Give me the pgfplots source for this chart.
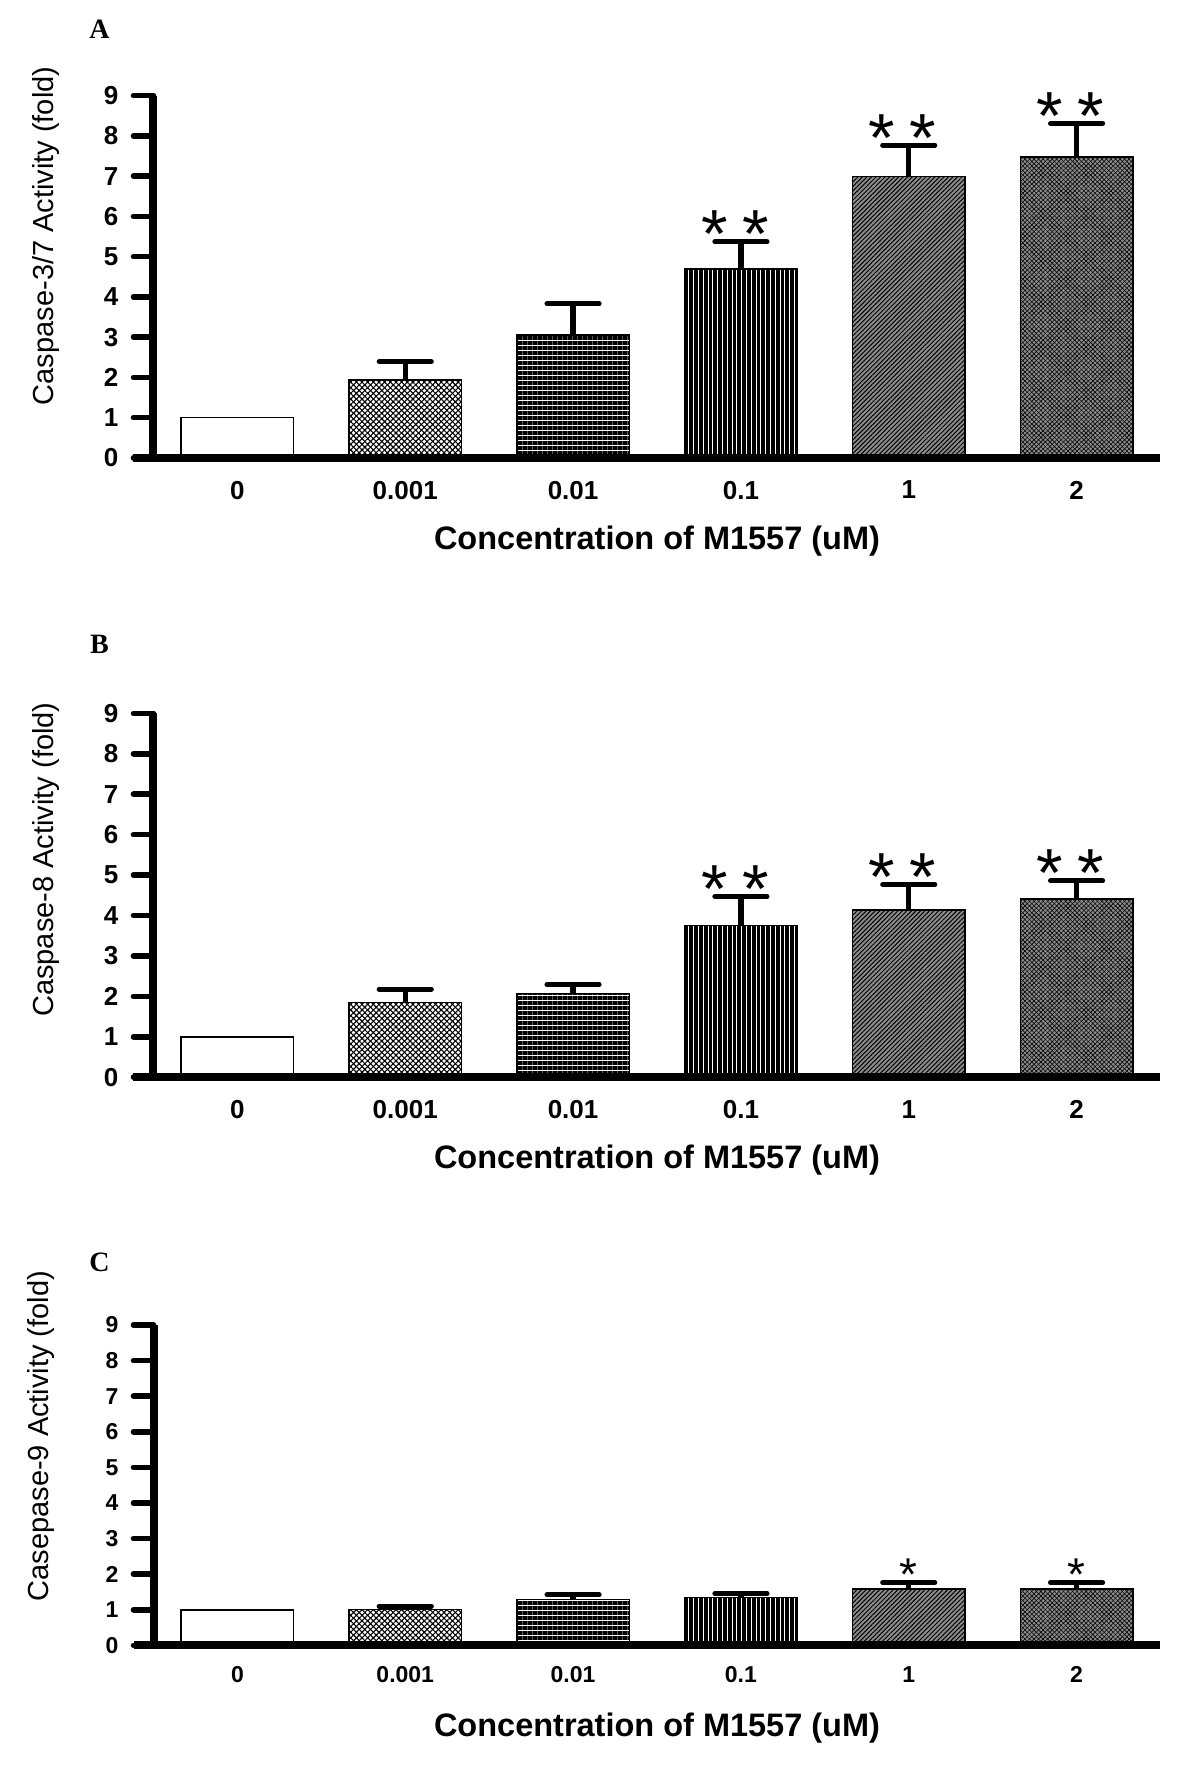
\documentclass[border=0pt]{standalone}
\usepackage{fontspec}
\setmainfont{Liberation Sans}
\newfontfamily\panelfont{Liberation Serif}
\usepackage{pgfplots}
\pgfplotsset{compat=1.18}
\usetikzlibrary{patterns.meta}

\pgfplotsset{
  barpanel/.style={
    scale only axis, width=503.5pt,
    xmin=-0.5, xmax=5.5, ymin=0, ymax=9,
    ybar, bar shift=0pt, bar width=0.67,
    axis x line*=bottom, axis y line*=left,
    axis line style={line width=4pt, black},
    x axis line style={shorten <=-10pt},
    axis on top, clip=false,
    tick align=outside, major tick length=10pt,
    xtick={0,...,5}, xticklabels={0,0.001,0.01,0.1,1,2},
    ytick={0,...,9},
    xtick style={draw=none},
    ytick style={line width=2.8pt, line cap=round, black},
    ticklabel style={font=\bfseries\fontsize{13}{15}\selectfont},
    yticklabel style={xshift=-4pt},
    xticklabel style={yshift=2pt},
    /pgf/number format/assume math mode=true,
    every axis x label/.style={at={(axis description cs:0.5,0)}, anchor=center, yshift=-41.5pt},
    every axis y label/.style={rotate=90, anchor=center},
    xlabel={Concentration of M1557 (uM)},
    xlabel style={font=\bfseries\fontsize{16.25}{19}\selectfont},
    ylabel style={font=\fontsize{14.5}{17}\selectfont},
    title style={anchor=center, yshift=-5.5pt, font=\panelfont\bfseries\fontsize{14}{16}\selectfont},
  },
  b0/.style={draw=black, line width=0.8pt, fill=white},
  b1/.style={draw=black, line width=0.8pt, fill=white,
    postaction={pattern color=black, pattern={Lines[angle=45,distance=2pt,line width=0.55pt]}},
    postaction={pattern color=black, pattern={Lines[angle=-45,distance=2pt,line width=0.55pt]}}},
  b2/.style={draw=black, line width=0.8pt, fill=white,
    postaction={pattern color=black, pattern={Lines[angle=0,distance=2.5pt,line width=1.6pt]}}},
  b3/.style={draw=black, line width=0.8pt, fill=white,
    postaction={pattern color=black, pattern={Lines[angle=90,distance=2.4pt,line width=1.9pt]}}},
  b4/.style={draw=black, line width=0.8pt, fill=black!45,
    postaction={pattern color=black, pattern={Lines[angle=45,distance=1.6pt,line width=0.5pt]}}},
  b5/.style={draw=black, line width=0.8pt, fill=black!45,
    postaction={pattern color=black, pattern={Lines[angle=45,distance=1.6pt,line width=0.3pt]}},
    postaction={pattern color=black, pattern={Lines[angle=-45,distance=1.6pt,line width=0.3pt]}}},
  errs/.style={draw=none, fill=none, forget plot,
    error bars/.cd, y dir=plus, y explicit,
    error bar style={draw=black, line width=2.6pt},
    error mark options={draw=black, rotate=90, mark size=13pt, line width=2.6pt, line cap=round}},
  stars/.style={draw=none, fill=none, forget plot,
    nodes near coords={*\hspace{7.3pt}*},
    every node near coord/.append style={font=\fontsize{34}{34}\selectfont, text=black,
      inner sep=0pt, xshift=-3pt, yshift=-8.3pt}},
  star/.style={draw=none, fill=none, forget plot,
    nodes near coords={*},
    every node near coord/.append style={font=\fontsize{23}{23}\selectfont, text=black,
      inner sep=0pt, yshift=-4pt}},
}

\begin{document}
\begin{tikzpicture}
\path[use as bounding box] (0,0) rectangle (600pt,884pt);

% A: caspase-3/7
\begin{axis}[barpanel, height=181.1pt, at={(76.75pt,655.05pt)}, anchor=south west,
  ylabel={Caspase-3/7 Activity (fold)},
  ylabel style={at={(axis description cs:-0.107,0.613)}},
  title={A}, title style={at={(axis description cs:-0.0536,1.181)}}]
\addplot[b0] coordinates {(0,1.00)};
\addplot[b1] coordinates {(1,1.93)};
\addplot[b2] coordinates {(2,3.06)};
\addplot[b3] coordinates {(3,4.70)};
\addplot[b4] coordinates {(4,6.99)};
\addplot[b5] coordinates {(5,7.47)};
\addplot[errs] coordinates {(1,1.93) +- (0,0.46) (2,3.06) +- (0,0.77) (3,4.70) +- (0,0.67)
  (4,6.99) +- (0,0.78) (5,7.47) +- (0,0.84)};
\addplot[stars] coordinates {(3,5.37) (4,7.77) (5,8.31)};
\end{axis}

% B: caspase-8
\begin{axis}[barpanel, height=182pt, at={(76.75pt,345.35pt)}, anchor=south west,
  ylabel={Caspase-8 Activity (fold)},
  ylabel style={at={(axis description cs:-0.107,0.598)}},
  title={B}, title style={at={(axis description cs:-0.0536,1.188)}}]
\addplot[b0] coordinates {(0,1.00)};
\addplot[b1] coordinates {(1,1.85)};
\addplot[b2] coordinates {(2,2.07)};
\addplot[b3] coordinates {(3,3.75)};
\addplot[b4] coordinates {(4,4.14)};
\addplot[b5] coordinates {(5,4.41)};
\addplot[errs] coordinates {(1,1.85) +- (0,0.33) (2,2.07) +- (0,0.22) (3,3.75) +- (0,0.72)
  (4,4.14) +- (0,0.63) (5,4.41) +- (0,0.45)};
\addplot[stars] coordinates {(3,4.47) (4,4.77) (5,4.86)};
\end{axis}

% C: caspase-9
\begin{axis}[barpanel, height=160.15pt, at={(76.75pt,61.35pt)}, anchor=south west,
  ticklabel style={font=\bfseries\fontsize{11.5}{13}\selectfont},
  xticklabel style={yshift=1pt},
  ylabel={Casepase-9 Activity (fold)},
  ylabel style={at={(axis description cs:-0.112,0.653)}},
  title={C}, title style={at={(axis description cs:-0.0536,1.194)}}]
\addplot[b0] coordinates {(0,1.00)};
\addplot[b1] coordinates {(1,1.01)};
\addplot[b2] coordinates {(2,1.29)};
\addplot[b3] coordinates {(3,1.34)};
\addplot[b4] coordinates {(4,1.59)};
\addplot[b5] coordinates {(5,1.59)};
\addplot[errs] coordinates {(1,1.01) +- (0,0.09) (2,1.29) +- (0,0.13) (3,1.34) +- (0,0.11)
  (4,1.59) +- (0,0.17) (5,1.59) +- (0,0.17)};
\addplot[star] coordinates {(4,1.76) (5,1.76)};
\end{axis}
\end{tikzpicture}
\end{document}
